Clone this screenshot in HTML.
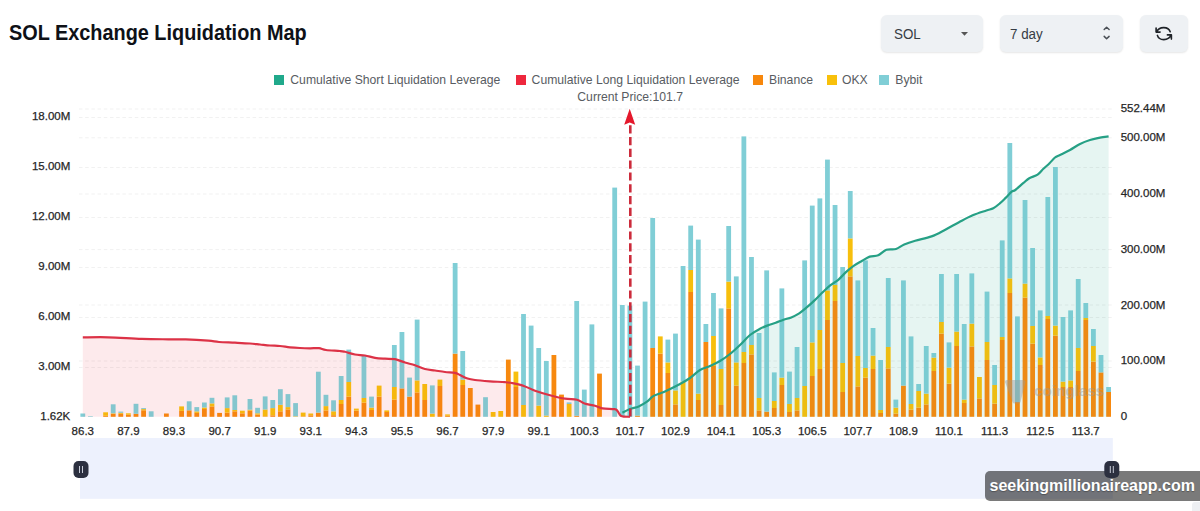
<!DOCTYPE html>
<html><head><meta charset="utf-8"><style>
html,body{margin:0;padding:0;background:#fff;}
body{width:1200px;height:511px;overflow:hidden;position:relative;font-family:"Liberation Sans",sans-serif;}
.title{position:absolute;left:9px;top:21.3px;font-size:22px;font-weight:700;color:#0e1117;line-height:24px;white-space:nowrap;transform:scaleX(0.903);transform-origin:0 0;}
.box{position:absolute;top:15px;height:37px;background:#eef1f4;border-radius:6px;box-shadow:0 1px 2px rgba(0,0,0,0.10);}
.boxtxt{position:absolute;top:9.6px;font-size:15.2px;color:#363c44;line-height:17px;white-space:nowrap;transform:scaleX(0.88);transform-origin:0 0;}
.leg{position:absolute;top:72.3px;font-size:12.2px;color:#585c62;line-height:16px;white-space:nowrap;}
.sq{position:absolute;top:75px;width:10px;height:10px;}
svg{position:absolute;left:0;top:0;}
.lbl text{font-family:"Liberation Sans",sans-serif;font-size:11.5px;fill:#262626;stroke:#262626;stroke-width:0.25px;}
</style></head><body>
<div class="title">SOL Exchange Liquidation Map</div>
<div class="box" style="left:881px;width:102px;"><div class="boxtxt" style="left:13px;">SOL</div>
<svg width="12" height="8" style="left:79px;top:16px;position:absolute"><path d="M1,1 L8,1 L4.5,4.8 Z" fill="#555"/></svg></div>
<div class="box" style="left:1000px;width:123px;"><div class="boxtxt" style="left:10px;">7 day</div>
<svg width="14" height="20" style="left:100px;top:9px;position:absolute"><path d="M4.2,5.5 L6.6,3.2 L9.1,5.5 M4.2,12.4 L6.6,14.8 L9.1,12.4" fill="none" stroke="#4a4f55" stroke-width="1.5" stroke-linecap="round" stroke-linejoin="round"/></svg></div>
<div class="box" style="left:1140px;width:48px;"></div>

<div class="sq" style="left:274.4px;background:#20a98b"></div><div class="leg" style="left:290.3px;">Cumulative Short Liquidation Leverage</div>
<div class="sq" style="left:515.6px;background:#ee283d"></div><div class="leg" style="left:531.6px;">Cumulative Long Liquidation Leverage</div>
<div class="sq" style="left:753.3px;background:#f7870c"></div><div class="leg" style="left:769px;">Binance</div>
<div class="sq" style="left:826.5px;background:#f8c00b"></div><div class="leg" style="left:842px;">OKX</div>
<div class="sq" style="left:879.4px;background:#80ced6"></div><div class="leg" style="left:895.3px;">Bybit</div>
<div class="leg" style="left:577.3px;top:89px;">Current Price:101.7</div>

<svg width="1200" height="511" viewBox="0 0 1200 511">
<line x1="79" y1="117.5" x2="1112" y2="117.5" stroke="#f1f1f1" stroke-width="1" stroke-dasharray="3.5 2.7"/><line x1="79" y1="167.5" x2="1112" y2="167.5" stroke="#f1f1f1" stroke-width="1" stroke-dasharray="3.5 2.7"/><line x1="79" y1="217.5" x2="1112" y2="217.5" stroke="#f1f1f1" stroke-width="1" stroke-dasharray="3.5 2.7"/><line x1="79" y1="267.5" x2="1112" y2="267.5" stroke="#f1f1f1" stroke-width="1" stroke-dasharray="3.5 2.7"/><line x1="79" y1="317.5" x2="1112" y2="317.5" stroke="#f1f1f1" stroke-width="1" stroke-dasharray="3.5 2.7"/><line x1="79" y1="367.5" x2="1112" y2="367.5" stroke="#f1f1f1" stroke-width="1" stroke-dasharray="3.5 2.7"/><line x1="79" y1="109" x2="1112" y2="109" stroke="#f1f1f1" stroke-width="1" stroke-dasharray="3.5 2.7"/><line x1="79" y1="137.8" x2="1112" y2="137.8" stroke="#f1f1f1" stroke-width="1" stroke-dasharray="3.5 2.7"/><line x1="79" y1="194" x2="1112" y2="194" stroke="#f1f1f1" stroke-width="1" stroke-dasharray="3.5 2.7"/><line x1="79" y1="249.6" x2="1112" y2="249.6" stroke="#f1f1f1" stroke-width="1" stroke-dasharray="3.5 2.7"/><line x1="79" y1="305" x2="1112" y2="305" stroke="#f1f1f1" stroke-width="1" stroke-dasharray="3.5 2.7"/><line x1="79" y1="361" x2="1112" y2="361" stroke="#f1f1f1" stroke-width="1" stroke-dasharray="3.5 2.7"/><path d="M82.80,337.40 C87.05,337.38 98.48,337.05 108.30,337.30 C118.12,337.55 131.70,338.57 141.70,338.90 C151.70,339.23 160.97,339.22 168.30,339.30 C175.63,339.38 179.03,339.17 185.70,339.40 C192.37,339.63 202.75,340.27 208.30,340.70 C213.85,341.13 214.55,341.67 219.00,342.00 C223.45,342.33 229.83,342.45 235.00,342.70 C240.17,342.95 245.83,343.20 250.00,343.50 C254.17,343.80 256.67,344.17 260.00,344.50 C263.33,344.83 266.67,345.25 270.00,345.50 C273.33,345.75 276.67,345.70 280.00,346.00 C283.33,346.30 286.67,346.97 290.00,347.30 C293.33,347.63 296.67,347.83 300.00,348.00 C303.33,348.17 306.83,348.27 310.00,348.30 C313.17,348.33 316.33,347.92 319.00,348.20 C321.67,348.48 322.50,349.53 326.00,350.00 C329.50,350.47 336.83,350.70 340.00,351.00 C343.17,351.30 342.50,351.22 345.00,351.80 C347.50,352.38 351.67,353.88 355.00,354.50 C358.33,355.12 361.67,354.95 365.00,355.50 C368.33,356.05 371.67,357.27 375.00,357.80 C378.33,358.33 381.67,358.47 385.00,358.70 C388.33,358.93 391.67,358.57 395.00,359.20 C398.33,359.83 401.67,361.50 405.00,362.50 C408.33,363.50 411.67,364.12 415.00,365.20 C418.33,366.28 421.67,368.12 425.00,369.00 C428.33,369.88 431.67,370.00 435.00,370.50 C438.33,371.00 441.67,371.62 445.00,372.00 C448.33,372.38 452.50,372.30 455.00,372.80 C457.50,373.30 457.92,374.05 460.00,375.00 C462.08,375.95 465.00,377.67 467.50,378.50 C470.00,379.33 471.25,379.53 475.00,380.00 C478.75,380.47 485.00,380.93 490.00,381.30 C495.00,381.67 501.25,381.88 505.00,382.20 C508.75,382.52 509.25,382.53 512.50,383.20 C515.75,383.87 520.75,384.95 524.50,386.20 C528.25,387.45 530.75,389.20 535.00,390.70 C539.25,392.20 545.00,393.87 550.00,395.20 C555.00,396.53 560.50,397.95 565.00,398.70 C569.50,399.45 573.75,398.90 577.00,399.70 C580.25,400.50 581.50,402.50 584.50,403.50 C587.50,404.50 592.00,404.90 595.00,405.70 C598.00,406.50 599.25,407.72 602.50,408.30 C605.75,408.88 612.00,408.75 614.50,409.20 C617.00,409.65 616.38,409.87 617.50,411.00 C618.62,412.13 619.13,415.03 621.20,416.00 C623.27,416.97 628.45,416.67 629.90,416.80 L629.9,416.8 L82.8,416.8 Z" fill="rgba(235,30,50,0.05)"/><path d="M622.30,412.60 C623.58,412.00 627.27,410.03 630.00,409.00 C632.73,407.97 635.87,407.62 638.70,406.40 C641.53,405.18 644.65,403.37 647.00,401.70 C649.35,400.03 650.65,397.77 652.80,396.40 C654.95,395.03 657.70,394.40 659.90,393.50 C662.10,392.60 662.65,392.58 666.00,391.00 C669.35,389.42 676.00,386.17 680.00,384.00 C684.00,381.83 686.67,380.33 690.00,378.00 C693.33,375.67 696.67,372.00 700.00,370.00 C703.33,368.00 706.67,367.50 710.00,366.00 C713.33,364.50 716.67,363.00 720.00,361.00 C723.33,359.00 726.67,356.67 730.00,354.00 C733.33,351.33 736.67,348.17 740.00,345.00 C743.33,341.83 746.67,337.70 750.00,335.00 C753.33,332.30 757.03,330.40 760.00,328.80 C762.97,327.20 765.18,326.40 767.80,325.40 C770.42,324.40 773.08,323.75 775.70,322.80 C778.32,321.85 780.90,320.60 783.50,319.70 C786.10,318.80 788.68,318.45 791.30,317.40 C793.92,316.35 796.58,315.10 799.20,313.40 C801.82,311.70 804.40,309.42 807.00,307.20 C809.60,304.98 812.18,302.58 814.80,300.10 C817.42,297.62 820.08,294.78 822.70,292.30 C825.32,289.82 827.90,287.28 830.50,285.20 C833.10,283.12 835.68,282.02 838.30,279.80 C840.92,277.58 843.58,274.25 846.20,271.90 C848.82,269.55 851.40,267.52 854.00,265.70 C856.60,263.88 859.18,262.52 861.80,261.00 C864.42,259.48 866.97,257.55 869.70,256.60 C872.43,255.65 875.42,256.43 878.20,255.30 C880.98,254.17 883.43,250.85 886.40,249.80 C889.37,248.75 893.03,249.88 896.00,249.00 C898.97,248.12 901.00,245.88 904.20,244.50 C907.40,243.12 910.63,242.05 915.20,240.70 C919.77,239.35 926.58,238.23 931.60,236.40 C936.62,234.57 940.73,232.07 945.30,229.70 C949.87,227.33 954.43,224.60 959.00,222.20 C963.57,219.80 968.13,217.25 972.70,215.30 C977.27,213.35 982.97,211.67 986.40,210.50 C989.83,209.33 991.02,209.52 993.30,208.30 C995.58,207.08 998.00,204.98 1000.10,203.20 C1002.20,201.42 1003.97,199.52 1005.90,197.60 C1007.83,195.68 1010.13,192.97 1011.70,191.70 C1013.27,190.43 1013.33,191.47 1015.30,190.00 C1017.27,188.53 1021.17,184.87 1023.50,182.90 C1025.83,180.93 1026.95,179.57 1029.30,178.20 C1031.65,176.83 1035.25,176.27 1037.60,174.70 C1039.95,173.13 1041.45,170.67 1043.40,168.80 C1045.35,166.93 1047.37,165.38 1049.30,163.50 C1051.23,161.62 1053.22,158.92 1055.00,157.50 C1056.78,156.08 1057.50,156.25 1060.00,155.00 C1062.50,153.75 1066.67,151.83 1070.00,150.00 C1073.33,148.17 1076.67,145.67 1080.00,144.00 C1083.33,142.33 1086.67,141.07 1090.00,140.00 C1093.33,138.93 1096.90,138.20 1100.00,137.60 C1103.10,137.00 1107.17,136.60 1108.60,136.40 L1108.6,416.8 L622.3,416.8 Z" fill="rgba(30,160,130,0.065)"/><rect x="80.40" y="413.50" width="4.8" height="3.30" fill="#80ced6"/><rect x="88.00" y="416.20" width="4.8" height="0.60" fill="#80ced6"/><rect x="103.20" y="415.80" width="4.8" height="1.00" fill="#f7890f"/><rect x="103.20" y="412.30" width="4.8" height="3.50" fill="#f7bf0d"/><rect x="110.79" y="413.80" width="4.8" height="3.00" fill="#f7890f"/><rect x="110.79" y="413.30" width="4.8" height="0.50" fill="#f7bf0d"/><rect x="110.79" y="404.30" width="4.8" height="9.00" fill="#80ced6"/><rect x="118.39" y="413.80" width="4.8" height="3.00" fill="#f7890f"/><rect x="118.39" y="412.80" width="4.8" height="1.00" fill="#f7bf0d"/><rect x="118.39" y="411.60" width="4.8" height="1.20" fill="#80ced6"/><rect x="125.99" y="414.80" width="4.8" height="2.00" fill="#f7890f"/><rect x="125.99" y="413.30" width="4.8" height="1.50" fill="#f7bf0d"/><rect x="133.59" y="413.80" width="4.8" height="3.00" fill="#f7890f"/><rect x="133.59" y="403.80" width="4.8" height="10.00" fill="#80ced6"/><rect x="141.19" y="410.30" width="4.8" height="6.50" fill="#f7890f"/><rect x="141.19" y="409.10" width="4.8" height="1.20" fill="#f7bf0d"/><rect x="141.19" y="408.10" width="4.8" height="1.00" fill="#80ced6"/><rect x="148.79" y="411.30" width="4.8" height="5.50" fill="#80ced6"/><rect x="163.98" y="413.50" width="4.8" height="3.30" fill="#f7890f"/><rect x="179.18" y="410.90" width="4.8" height="5.90" fill="#f7890f"/><rect x="179.18" y="406.40" width="4.8" height="4.50" fill="#f7bf0d"/><rect x="186.78" y="410.30" width="4.8" height="6.50" fill="#f7890f"/><rect x="186.78" y="401.30" width="4.8" height="9.00" fill="#80ced6"/><rect x="194.38" y="412.90" width="4.8" height="3.90" fill="#f7890f"/><rect x="194.38" y="411.40" width="4.8" height="1.50" fill="#f7bf0d"/><rect x="194.38" y="407.10" width="4.8" height="4.30" fill="#80ced6"/><rect x="201.98" y="409.00" width="4.8" height="7.80" fill="#f7890f"/><rect x="201.98" y="407.50" width="4.8" height="1.50" fill="#f7bf0d"/><rect x="201.98" y="402.50" width="4.8" height="5.00" fill="#80ced6"/><rect x="209.57" y="406.40" width="4.8" height="10.40" fill="#f7890f"/><rect x="209.57" y="403.40" width="4.8" height="3.00" fill="#f7bf0d"/><rect x="209.57" y="397.80" width="4.8" height="5.60" fill="#80ced6"/><rect x="217.17" y="412.90" width="4.8" height="3.90" fill="#f7890f"/><rect x="224.77" y="412.60" width="4.8" height="4.20" fill="#f7890f"/><rect x="224.77" y="408.10" width="4.8" height="4.50" fill="#f7bf0d"/><rect x="224.77" y="397.40" width="4.8" height="10.70" fill="#80ced6"/><rect x="232.37" y="411.30" width="4.8" height="5.50" fill="#f7890f"/><rect x="232.37" y="410.00" width="4.8" height="1.30" fill="#f7bf0d"/><rect x="232.37" y="395.30" width="4.8" height="14.70" fill="#80ced6"/><rect x="239.97" y="413.30" width="4.8" height="3.50" fill="#f7890f"/><rect x="239.97" y="410.70" width="4.8" height="2.60" fill="#f7bf0d"/><rect x="247.57" y="410.70" width="4.8" height="6.10" fill="#f7890f"/><rect x="247.57" y="409.70" width="4.8" height="1.00" fill="#f7bf0d"/><rect x="247.57" y="399.00" width="4.8" height="10.70" fill="#80ced6"/><rect x="255.17" y="414.60" width="4.8" height="2.20" fill="#f7890f"/><rect x="255.17" y="413.30" width="4.8" height="1.30" fill="#f7bf0d"/><rect x="255.17" y="407.80" width="4.8" height="5.50" fill="#80ced6"/><rect x="262.76" y="416.30" width="4.8" height="0.50" fill="#f7890f"/><rect x="262.76" y="409.50" width="4.8" height="6.80" fill="#f7bf0d"/><rect x="262.76" y="396.40" width="4.8" height="13.10" fill="#80ced6"/><rect x="270.36" y="415.30" width="4.8" height="1.50" fill="#f7890f"/><rect x="270.36" y="408.10" width="4.8" height="7.20" fill="#f7bf0d"/><rect x="270.36" y="400.00" width="4.8" height="8.10" fill="#80ced6"/><rect x="277.96" y="411.30" width="4.8" height="5.50" fill="#f7890f"/><rect x="277.96" y="404.80" width="4.8" height="6.50" fill="#f7bf0d"/><rect x="277.96" y="389.20" width="4.8" height="15.60" fill="#80ced6"/><rect x="285.56" y="409.40" width="4.8" height="7.40" fill="#f7890f"/><rect x="285.56" y="407.10" width="4.8" height="2.30" fill="#f7bf0d"/><rect x="285.56" y="394.10" width="4.8" height="13.00" fill="#80ced6"/><rect x="293.16" y="416.30" width="4.8" height="0.50" fill="#f7bf0d"/><rect x="293.16" y="403.10" width="4.8" height="13.20" fill="#80ced6"/><rect x="300.76" y="416.30" width="4.8" height="0.50" fill="#f7890f"/><rect x="300.76" y="412.60" width="4.8" height="3.70" fill="#f7bf0d"/><rect x="308.36" y="415.30" width="4.8" height="1.50" fill="#f7890f"/><rect x="308.36" y="413.50" width="4.8" height="1.80" fill="#f7bf0d"/><rect x="315.95" y="412.60" width="4.8" height="4.20" fill="#f7890f"/><rect x="315.95" y="371.70" width="4.8" height="40.90" fill="#80ced6"/><rect x="323.55" y="410.40" width="4.8" height="6.40" fill="#f7890f"/><rect x="323.55" y="406.10" width="4.8" height="4.30" fill="#f7bf0d"/><rect x="323.55" y="394.80" width="4.8" height="11.30" fill="#80ced6"/><rect x="331.15" y="415.20" width="4.8" height="1.60" fill="#f7890f"/><rect x="331.15" y="411.30" width="4.8" height="3.90" fill="#f7bf0d"/><rect x="331.15" y="400.30" width="4.8" height="11.00" fill="#80ced6"/><rect x="338.75" y="404.00" width="4.8" height="12.80" fill="#f7890f"/><rect x="338.75" y="400.00" width="4.8" height="4.00" fill="#f7bf0d"/><rect x="338.75" y="376.00" width="4.8" height="24.00" fill="#80ced6"/><rect x="346.35" y="396.60" width="4.8" height="20.20" fill="#f7890f"/><rect x="346.35" y="382.00" width="4.8" height="14.60" fill="#f7bf0d"/><rect x="346.35" y="349.60" width="4.8" height="32.40" fill="#80ced6"/><rect x="353.95" y="410.60" width="4.8" height="6.20" fill="#f7890f"/><rect x="353.95" y="408.60" width="4.8" height="2.00" fill="#f7bf0d"/><rect x="361.55" y="402.60" width="4.8" height="14.20" fill="#f7890f"/><rect x="361.55" y="398.00" width="4.8" height="4.60" fill="#f7bf0d"/><rect x="361.55" y="356.00" width="4.8" height="42.00" fill="#80ced6"/><rect x="369.14" y="410.00" width="4.8" height="6.80" fill="#f7890f"/><rect x="369.14" y="407.60" width="4.8" height="2.40" fill="#f7bf0d"/><rect x="369.14" y="396.60" width="4.8" height="11.00" fill="#80ced6"/><rect x="376.74" y="396.60" width="4.8" height="20.20" fill="#f7890f"/><rect x="376.74" y="385.60" width="4.8" height="11.00" fill="#f7bf0d"/><rect x="384.34" y="412.00" width="4.8" height="4.80" fill="#f7890f"/><rect x="384.34" y="410.40" width="4.8" height="1.60" fill="#f7bf0d"/><rect x="391.94" y="399.60" width="4.8" height="17.20" fill="#f7890f"/><rect x="391.94" y="387.00" width="4.8" height="12.60" fill="#f7bf0d"/><rect x="391.94" y="345.00" width="4.8" height="42.00" fill="#80ced6"/><rect x="399.54" y="388.40" width="4.8" height="28.40" fill="#f7890f"/><rect x="399.54" y="332.00" width="4.8" height="56.40" fill="#80ced6"/><rect x="407.14" y="396.60" width="4.8" height="20.20" fill="#f7890f"/><rect x="407.14" y="377.60" width="4.8" height="19.00" fill="#80ced6"/><rect x="414.73" y="392.40" width="4.8" height="24.40" fill="#f7890f"/><rect x="414.73" y="380.40" width="4.8" height="12.00" fill="#f7bf0d"/><rect x="414.73" y="319.60" width="4.8" height="60.80" fill="#80ced6"/><rect x="422.33" y="400.00" width="4.8" height="16.80" fill="#f7890f"/><rect x="422.33" y="384.00" width="4.8" height="16.00" fill="#f7bf0d"/><rect x="429.93" y="413.60" width="4.8" height="3.20" fill="#f7bf0d"/><rect x="429.93" y="385.40" width="4.8" height="28.20" fill="#80ced6"/><rect x="437.53" y="386.00" width="4.8" height="30.80" fill="#f7890f"/><rect x="437.53" y="379.60" width="4.8" height="6.40" fill="#f7bf0d"/><rect x="445.13" y="415.80" width="4.8" height="1.00" fill="#f7890f"/><rect x="445.13" y="414.40" width="4.8" height="1.40" fill="#f7bf0d"/><rect x="452.73" y="353.60" width="4.8" height="63.20" fill="#f7890f"/><rect x="452.73" y="263.00" width="4.8" height="90.60" fill="#80ced6"/><rect x="460.33" y="385.00" width="4.8" height="31.80" fill="#f7890f"/><rect x="460.33" y="379.60" width="4.8" height="5.40" fill="#f7bf0d"/><rect x="460.33" y="351.00" width="4.8" height="28.60" fill="#80ced6"/><rect x="467.92" y="388.00" width="4.8" height="28.80" fill="#f7890f"/><rect x="475.52" y="404.60" width="4.8" height="12.20" fill="#f7890f"/><rect x="483.12" y="397.20" width="4.8" height="19.60" fill="#80ced6"/><rect x="490.72" y="412.00" width="4.8" height="4.80" fill="#f7bf0d"/><rect x="498.32" y="411.00" width="4.8" height="5.80" fill="#f7bf0d"/><rect x="505.92" y="359.60" width="4.8" height="57.20" fill="#f7890f"/><rect x="513.52" y="387.00" width="4.8" height="29.80" fill="#f7890f"/><rect x="513.52" y="371.60" width="4.8" height="15.40" fill="#f7bf0d"/><rect x="521.11" y="405.00" width="4.8" height="11.80" fill="#f7bf0d"/><rect x="521.11" y="314.00" width="4.8" height="91.00" fill="#80ced6"/><rect x="528.71" y="325.60" width="4.8" height="91.20" fill="#80ced6"/><rect x="536.31" y="405.60" width="4.8" height="11.20" fill="#f7bf0d"/><rect x="536.31" y="348.00" width="4.8" height="57.60" fill="#80ced6"/><rect x="543.91" y="415.60" width="4.8" height="1.20" fill="#f7bf0d"/><rect x="543.91" y="361.00" width="4.8" height="54.60" fill="#80ced6"/><rect x="551.51" y="355.00" width="4.8" height="61.80" fill="#f7890f"/><rect x="559.11" y="394.60" width="4.8" height="22.20" fill="#f7890f"/><rect x="566.71" y="404.00" width="4.8" height="12.80" fill="#f7bf0d"/><rect x="566.71" y="402.40" width="4.8" height="1.60" fill="#80ced6"/><rect x="574.30" y="415.80" width="4.8" height="1.00" fill="#f7890f"/><rect x="574.30" y="301.00" width="4.8" height="114.80" fill="#80ced6"/><rect x="581.90" y="389.60" width="4.8" height="27.20" fill="#80ced6"/><rect x="589.50" y="324.40" width="4.8" height="92.40" fill="#80ced6"/><rect x="597.10" y="373.60" width="4.8" height="43.20" fill="#f7890f"/><rect x="612.30" y="187.60" width="4.8" height="229.20" fill="#80ced6"/><rect x="619.89" y="305.00" width="4.8" height="111.80" fill="#80ced6"/><rect x="627.49" y="305.60" width="4.8" height="111.20" fill="#80ced6"/><rect x="635.09" y="415.60" width="4.8" height="1.20" fill="#f7890f"/><rect x="635.09" y="365.60" width="4.8" height="50.00" fill="#80ced6"/><rect x="642.69" y="301.60" width="4.8" height="115.20" fill="#80ced6"/><rect x="650.29" y="348.00" width="4.8" height="68.80" fill="#f7890f"/><rect x="650.29" y="218.00" width="4.8" height="130.00" fill="#80ced6"/><rect x="657.89" y="353.60" width="4.8" height="63.20" fill="#f7890f"/><rect x="657.89" y="336.40" width="4.8" height="17.20" fill="#f7bf0d"/><rect x="665.49" y="373.00" width="4.8" height="43.80" fill="#f7890f"/><rect x="665.49" y="362.40" width="4.8" height="10.60" fill="#f7bf0d"/><rect x="665.49" y="339.60" width="4.8" height="22.80" fill="#80ced6"/><rect x="673.08" y="404.40" width="4.8" height="12.40" fill="#f7890f"/><rect x="673.08" y="390.40" width="4.8" height="14.00" fill="#f7bf0d"/><rect x="673.08" y="333.60" width="4.8" height="56.80" fill="#80ced6"/><rect x="680.68" y="381.60" width="4.8" height="35.20" fill="#f7bf0d"/><rect x="680.68" y="266.00" width="4.8" height="115.60" fill="#80ced6"/><rect x="688.28" y="292.00" width="4.8" height="124.80" fill="#f7890f"/><rect x="688.28" y="270.00" width="4.8" height="22.00" fill="#f7bf0d"/><rect x="688.28" y="225.60" width="4.8" height="44.40" fill="#80ced6"/><rect x="695.88" y="400.00" width="4.8" height="16.80" fill="#f7890f"/><rect x="695.88" y="393.60" width="4.8" height="6.40" fill="#f7bf0d"/><rect x="695.88" y="239.60" width="4.8" height="154.00" fill="#80ced6"/><rect x="703.48" y="342.00" width="4.8" height="74.80" fill="#f7890f"/><rect x="703.48" y="324.00" width="4.8" height="18.00" fill="#80ced6"/><rect x="711.08" y="366.00" width="4.8" height="50.80" fill="#f7890f"/><rect x="711.08" y="336.00" width="4.8" height="30.00" fill="#f7bf0d"/><rect x="711.08" y="293.00" width="4.8" height="43.00" fill="#80ced6"/><rect x="718.68" y="405.00" width="4.8" height="11.80" fill="#f7890f"/><rect x="718.68" y="369.00" width="4.8" height="36.00" fill="#f7bf0d"/><rect x="718.68" y="308.40" width="4.8" height="60.60" fill="#80ced6"/><rect x="726.27" y="308.40" width="4.8" height="108.40" fill="#f7890f"/><rect x="726.27" y="281.60" width="4.8" height="26.80" fill="#f7bf0d"/><rect x="726.27" y="226.00" width="4.8" height="55.60" fill="#80ced6"/><rect x="733.87" y="385.60" width="4.8" height="31.20" fill="#f7890f"/><rect x="733.87" y="362.40" width="4.8" height="23.20" fill="#f7bf0d"/><rect x="733.87" y="276.40" width="4.8" height="86.00" fill="#80ced6"/><rect x="741.47" y="363.00" width="4.8" height="53.80" fill="#f7890f"/><rect x="741.47" y="352.00" width="4.8" height="11.00" fill="#f7bf0d"/><rect x="741.47" y="136.40" width="4.8" height="215.60" fill="#80ced6"/><rect x="749.07" y="354.40" width="4.8" height="62.40" fill="#f7890f"/><rect x="749.07" y="345.00" width="4.8" height="9.40" fill="#f7bf0d"/><rect x="749.07" y="257.00" width="4.8" height="88.00" fill="#80ced6"/><rect x="756.67" y="410.40" width="4.8" height="6.40" fill="#f7890f"/><rect x="756.67" y="398.00" width="4.8" height="12.40" fill="#f7bf0d"/><rect x="756.67" y="333.00" width="4.8" height="65.00" fill="#80ced6"/><rect x="764.27" y="411.60" width="4.8" height="5.20" fill="#f7890f"/><rect x="764.27" y="270.40" width="4.8" height="141.20" fill="#80ced6"/><rect x="771.87" y="408.00" width="4.8" height="8.80" fill="#f7890f"/><rect x="771.87" y="401.00" width="4.8" height="7.00" fill="#f7bf0d"/><rect x="771.87" y="372.40" width="4.8" height="28.60" fill="#80ced6"/><rect x="779.46" y="385.00" width="4.8" height="31.80" fill="#f7890f"/><rect x="779.46" y="377.60" width="4.8" height="7.40" fill="#f7bf0d"/><rect x="779.46" y="288.40" width="4.8" height="89.20" fill="#80ced6"/><rect x="787.06" y="412.00" width="4.8" height="4.80" fill="#f7890f"/><rect x="787.06" y="404.00" width="4.8" height="8.00" fill="#f7bf0d"/><rect x="787.06" y="371.60" width="4.8" height="32.40" fill="#80ced6"/><rect x="794.66" y="410.40" width="4.8" height="6.40" fill="#f7890f"/><rect x="794.66" y="398.00" width="4.8" height="12.40" fill="#f7bf0d"/><rect x="794.66" y="347.00" width="4.8" height="51.00" fill="#80ced6"/><rect x="802.26" y="386.00" width="4.8" height="30.80" fill="#f7bf0d"/><rect x="802.26" y="260.40" width="4.8" height="125.60" fill="#80ced6"/><rect x="809.86" y="376.00" width="4.8" height="40.80" fill="#f7890f"/><rect x="809.86" y="342.40" width="4.8" height="33.60" fill="#f7bf0d"/><rect x="809.86" y="205.60" width="4.8" height="136.80" fill="#80ced6"/><rect x="817.46" y="369.00" width="4.8" height="47.80" fill="#f7890f"/><rect x="817.46" y="330.00" width="4.8" height="39.00" fill="#f7bf0d"/><rect x="817.46" y="198.40" width="4.8" height="131.60" fill="#80ced6"/><rect x="825.05" y="320.00" width="4.8" height="96.80" fill="#f7890f"/><rect x="825.05" y="290.40" width="4.8" height="29.60" fill="#f7bf0d"/><rect x="825.05" y="159.60" width="4.8" height="130.80" fill="#80ced6"/><rect x="832.65" y="301.00" width="4.8" height="115.80" fill="#f7890f"/><rect x="832.65" y="285.00" width="4.8" height="16.00" fill="#f7bf0d"/><rect x="832.65" y="205.00" width="4.8" height="80.00" fill="#80ced6"/><rect x="840.25" y="392.00" width="4.8" height="24.80" fill="#f7890f"/><rect x="840.25" y="363.00" width="4.8" height="29.00" fill="#f7bf0d"/><rect x="840.25" y="267.00" width="4.8" height="96.00" fill="#80ced6"/><rect x="847.85" y="276.40" width="4.8" height="140.40" fill="#f7890f"/><rect x="847.85" y="238.40" width="4.8" height="38.00" fill="#f7bf0d"/><rect x="847.85" y="191.00" width="4.8" height="47.40" fill="#80ced6"/><rect x="855.45" y="386.40" width="4.8" height="30.40" fill="#f7890f"/><rect x="855.45" y="356.00" width="4.8" height="30.40" fill="#f7bf0d"/><rect x="855.45" y="280.40" width="4.8" height="75.60" fill="#80ced6"/><rect x="863.05" y="377.60" width="4.8" height="39.20" fill="#f7890f"/><rect x="863.05" y="368.00" width="4.8" height="9.60" fill="#f7bf0d"/><rect x="863.05" y="260.40" width="4.8" height="107.60" fill="#80ced6"/><rect x="870.65" y="369.00" width="4.8" height="47.80" fill="#f7890f"/><rect x="870.65" y="355.60" width="4.8" height="13.40" fill="#f7bf0d"/><rect x="870.65" y="328.00" width="4.8" height="27.60" fill="#80ced6"/><rect x="878.24" y="413.00" width="4.8" height="3.80" fill="#f7890f"/><rect x="878.24" y="410.00" width="4.8" height="3.00" fill="#f7bf0d"/><rect x="878.24" y="360.00" width="4.8" height="50.00" fill="#80ced6"/><rect x="885.84" y="368.40" width="4.8" height="48.40" fill="#f7890f"/><rect x="885.84" y="347.00" width="4.8" height="21.40" fill="#f7bf0d"/><rect x="885.84" y="278.00" width="4.8" height="69.00" fill="#80ced6"/><rect x="893.44" y="413.60" width="4.8" height="3.20" fill="#f7890f"/><rect x="893.44" y="407.60" width="4.8" height="6.00" fill="#f7bf0d"/><rect x="893.44" y="399.60" width="4.8" height="8.00" fill="#80ced6"/><rect x="901.04" y="385.60" width="4.8" height="31.20" fill="#f7890f"/><rect x="901.04" y="280.40" width="4.8" height="105.20" fill="#80ced6"/><rect x="908.64" y="409.60" width="4.8" height="7.20" fill="#f7890f"/><rect x="908.64" y="404.00" width="4.8" height="5.60" fill="#f7bf0d"/><rect x="908.64" y="336.40" width="4.8" height="67.60" fill="#80ced6"/><rect x="916.24" y="407.60" width="4.8" height="9.20" fill="#f7890f"/><rect x="916.24" y="391.00" width="4.8" height="16.60" fill="#f7bf0d"/><rect x="916.24" y="384.00" width="4.8" height="7.00" fill="#80ced6"/><rect x="923.84" y="404.40" width="4.8" height="12.40" fill="#f7890f"/><rect x="923.84" y="393.60" width="4.8" height="10.80" fill="#f7bf0d"/><rect x="923.84" y="346.00" width="4.8" height="47.60" fill="#80ced6"/><rect x="931.43" y="371.00" width="4.8" height="45.80" fill="#f7890f"/><rect x="931.43" y="357.60" width="4.8" height="13.40" fill="#f7bf0d"/><rect x="931.43" y="353.00" width="4.8" height="4.60" fill="#80ced6"/><rect x="939.03" y="333.60" width="4.8" height="83.20" fill="#f7890f"/><rect x="939.03" y="322.00" width="4.8" height="11.60" fill="#f7bf0d"/><rect x="939.03" y="274.00" width="4.8" height="48.00" fill="#80ced6"/><rect x="946.63" y="383.60" width="4.8" height="33.20" fill="#f7890f"/><rect x="946.63" y="367.60" width="4.8" height="16.00" fill="#f7bf0d"/><rect x="946.63" y="342.40" width="4.8" height="25.20" fill="#80ced6"/><rect x="954.23" y="346.00" width="4.8" height="70.80" fill="#f7890f"/><rect x="954.23" y="331.60" width="4.8" height="14.40" fill="#f7bf0d"/><rect x="954.23" y="274.00" width="4.8" height="57.60" fill="#80ced6"/><rect x="961.83" y="403.00" width="4.8" height="13.80" fill="#f7890f"/><rect x="961.83" y="399.60" width="4.8" height="3.40" fill="#f7bf0d"/><rect x="961.83" y="324.00" width="4.8" height="75.60" fill="#80ced6"/><rect x="969.43" y="346.40" width="4.8" height="70.40" fill="#f7890f"/><rect x="969.43" y="323.60" width="4.8" height="22.80" fill="#f7bf0d"/><rect x="969.43" y="273.40" width="4.8" height="50.20" fill="#80ced6"/><rect x="977.03" y="398.40" width="4.8" height="18.40" fill="#f7890f"/><rect x="977.03" y="377.00" width="4.8" height="21.40" fill="#f7bf0d"/><rect x="984.62" y="360.00" width="4.8" height="56.80" fill="#f7890f"/><rect x="984.62" y="342.00" width="4.8" height="18.00" fill="#f7bf0d"/><rect x="984.62" y="291.60" width="4.8" height="50.40" fill="#80ced6"/><rect x="992.22" y="403.60" width="4.8" height="13.20" fill="#f7890f"/><rect x="992.22" y="385.00" width="4.8" height="18.60" fill="#f7bf0d"/><rect x="992.22" y="365.00" width="4.8" height="20.00" fill="#80ced6"/><rect x="999.82" y="340.00" width="4.8" height="76.80" fill="#f7890f"/><rect x="999.82" y="337.00" width="4.8" height="3.00" fill="#f7bf0d"/><rect x="999.82" y="240.40" width="4.8" height="96.60" fill="#80ced6"/><rect x="1007.42" y="293.00" width="4.8" height="123.80" fill="#f7890f"/><rect x="1007.42" y="278.40" width="4.8" height="14.60" fill="#f7bf0d"/><rect x="1007.42" y="143.00" width="4.8" height="135.40" fill="#80ced6"/><rect x="1015.02" y="402.00" width="4.8" height="14.80" fill="#f7890f"/><rect x="1015.02" y="316.40" width="4.8" height="85.60" fill="#80ced6"/><rect x="1022.62" y="297.60" width="4.8" height="119.20" fill="#f7890f"/><rect x="1022.62" y="283.60" width="4.8" height="14.00" fill="#f7bf0d"/><rect x="1022.62" y="200.00" width="4.8" height="83.60" fill="#80ced6"/><rect x="1030.21" y="343.60" width="4.8" height="73.20" fill="#f7890f"/><rect x="1030.21" y="326.00" width="4.8" height="17.60" fill="#f7bf0d"/><rect x="1030.21" y="248.00" width="4.8" height="78.00" fill="#80ced6"/><rect x="1037.81" y="365.00" width="4.8" height="51.80" fill="#f7890f"/><rect x="1037.81" y="357.40" width="4.8" height="7.60" fill="#f7bf0d"/><rect x="1037.81" y="310.40" width="4.8" height="47.00" fill="#80ced6"/><rect x="1045.41" y="319.00" width="4.8" height="97.80" fill="#f7890f"/><rect x="1045.41" y="316.00" width="4.8" height="3.00" fill="#f7bf0d"/><rect x="1045.41" y="197.00" width="4.8" height="119.00" fill="#80ced6"/><rect x="1053.01" y="335.60" width="4.8" height="81.20" fill="#f7890f"/><rect x="1053.01" y="325.60" width="4.8" height="10.00" fill="#f7bf0d"/><rect x="1053.01" y="167.00" width="4.8" height="158.60" fill="#80ced6"/><rect x="1060.61" y="387.00" width="4.8" height="29.80" fill="#f7890f"/><rect x="1060.61" y="381.60" width="4.8" height="5.40" fill="#f7bf0d"/><rect x="1060.61" y="317.00" width="4.8" height="64.60" fill="#80ced6"/><rect x="1068.21" y="387.00" width="4.8" height="29.80" fill="#f7890f"/><rect x="1068.21" y="380.40" width="4.8" height="6.60" fill="#f7bf0d"/><rect x="1068.21" y="310.40" width="4.8" height="70.00" fill="#80ced6"/><rect x="1075.81" y="371.00" width="4.8" height="45.80" fill="#f7890f"/><rect x="1075.81" y="348.00" width="4.8" height="23.00" fill="#f7bf0d"/><rect x="1075.81" y="279.00" width="4.8" height="69.00" fill="#80ced6"/><rect x="1083.40" y="320.00" width="4.8" height="96.80" fill="#f7890f"/><rect x="1083.40" y="318.00" width="4.8" height="2.00" fill="#f7bf0d"/><rect x="1083.40" y="303.00" width="4.8" height="15.00" fill="#80ced6"/><rect x="1091.00" y="361.60" width="4.8" height="55.20" fill="#f7890f"/><rect x="1091.00" y="346.00" width="4.8" height="15.60" fill="#f7bf0d"/><rect x="1091.00" y="329.00" width="4.8" height="17.00" fill="#80ced6"/><rect x="1098.60" y="372.40" width="4.8" height="44.40" fill="#f7890f"/><rect x="1098.60" y="355.00" width="4.8" height="17.40" fill="#80ced6"/><rect x="1106.20" y="392.00" width="4.8" height="24.80" fill="#f7890f"/><rect x="1106.20" y="387.00" width="4.8" height="5.00" fill="#80ced6"/><path d="M82.80,337.40 C87.05,337.38 98.48,337.05 108.30,337.30 C118.12,337.55 131.70,338.57 141.70,338.90 C151.70,339.23 160.97,339.22 168.30,339.30 C175.63,339.38 179.03,339.17 185.70,339.40 C192.37,339.63 202.75,340.27 208.30,340.70 C213.85,341.13 214.55,341.67 219.00,342.00 C223.45,342.33 229.83,342.45 235.00,342.70 C240.17,342.95 245.83,343.20 250.00,343.50 C254.17,343.80 256.67,344.17 260.00,344.50 C263.33,344.83 266.67,345.25 270.00,345.50 C273.33,345.75 276.67,345.70 280.00,346.00 C283.33,346.30 286.67,346.97 290.00,347.30 C293.33,347.63 296.67,347.83 300.00,348.00 C303.33,348.17 306.83,348.27 310.00,348.30 C313.17,348.33 316.33,347.92 319.00,348.20 C321.67,348.48 322.50,349.53 326.00,350.00 C329.50,350.47 336.83,350.70 340.00,351.00 C343.17,351.30 342.50,351.22 345.00,351.80 C347.50,352.38 351.67,353.88 355.00,354.50 C358.33,355.12 361.67,354.95 365.00,355.50 C368.33,356.05 371.67,357.27 375.00,357.80 C378.33,358.33 381.67,358.47 385.00,358.70 C388.33,358.93 391.67,358.57 395.00,359.20 C398.33,359.83 401.67,361.50 405.00,362.50 C408.33,363.50 411.67,364.12 415.00,365.20 C418.33,366.28 421.67,368.12 425.00,369.00 C428.33,369.88 431.67,370.00 435.00,370.50 C438.33,371.00 441.67,371.62 445.00,372.00 C448.33,372.38 452.50,372.30 455.00,372.80 C457.50,373.30 457.92,374.05 460.00,375.00 C462.08,375.95 465.00,377.67 467.50,378.50 C470.00,379.33 471.25,379.53 475.00,380.00 C478.75,380.47 485.00,380.93 490.00,381.30 C495.00,381.67 501.25,381.88 505.00,382.20 C508.75,382.52 509.25,382.53 512.50,383.20 C515.75,383.87 520.75,384.95 524.50,386.20 C528.25,387.45 530.75,389.20 535.00,390.70 C539.25,392.20 545.00,393.87 550.00,395.20 C555.00,396.53 560.50,397.95 565.00,398.70 C569.50,399.45 573.75,398.90 577.00,399.70 C580.25,400.50 581.50,402.50 584.50,403.50 C587.50,404.50 592.00,404.90 595.00,405.70 C598.00,406.50 599.25,407.72 602.50,408.30 C605.75,408.88 612.00,408.75 614.50,409.20 C617.00,409.65 616.38,409.87 617.50,411.00 C618.62,412.13 619.13,415.03 621.20,416.00 C623.27,416.97 628.45,416.67 629.90,416.80 L629.9,416.8 L82.8,416.8 Z" fill="rgba(235,30,50,0.045)"/><path d="M622.30,412.60 C623.58,412.00 627.27,410.03 630.00,409.00 C632.73,407.97 635.87,407.62 638.70,406.40 C641.53,405.18 644.65,403.37 647.00,401.70 C649.35,400.03 650.65,397.77 652.80,396.40 C654.95,395.03 657.70,394.40 659.90,393.50 C662.10,392.60 662.65,392.58 666.00,391.00 C669.35,389.42 676.00,386.17 680.00,384.00 C684.00,381.83 686.67,380.33 690.00,378.00 C693.33,375.67 696.67,372.00 700.00,370.00 C703.33,368.00 706.67,367.50 710.00,366.00 C713.33,364.50 716.67,363.00 720.00,361.00 C723.33,359.00 726.67,356.67 730.00,354.00 C733.33,351.33 736.67,348.17 740.00,345.00 C743.33,341.83 746.67,337.70 750.00,335.00 C753.33,332.30 757.03,330.40 760.00,328.80 C762.97,327.20 765.18,326.40 767.80,325.40 C770.42,324.40 773.08,323.75 775.70,322.80 C778.32,321.85 780.90,320.60 783.50,319.70 C786.10,318.80 788.68,318.45 791.30,317.40 C793.92,316.35 796.58,315.10 799.20,313.40 C801.82,311.70 804.40,309.42 807.00,307.20 C809.60,304.98 812.18,302.58 814.80,300.10 C817.42,297.62 820.08,294.78 822.70,292.30 C825.32,289.82 827.90,287.28 830.50,285.20 C833.10,283.12 835.68,282.02 838.30,279.80 C840.92,277.58 843.58,274.25 846.20,271.90 C848.82,269.55 851.40,267.52 854.00,265.70 C856.60,263.88 859.18,262.52 861.80,261.00 C864.42,259.48 866.97,257.55 869.70,256.60 C872.43,255.65 875.42,256.43 878.20,255.30 C880.98,254.17 883.43,250.85 886.40,249.80 C889.37,248.75 893.03,249.88 896.00,249.00 C898.97,248.12 901.00,245.88 904.20,244.50 C907.40,243.12 910.63,242.05 915.20,240.70 C919.77,239.35 926.58,238.23 931.60,236.40 C936.62,234.57 940.73,232.07 945.30,229.70 C949.87,227.33 954.43,224.60 959.00,222.20 C963.57,219.80 968.13,217.25 972.70,215.30 C977.27,213.35 982.97,211.67 986.40,210.50 C989.83,209.33 991.02,209.52 993.30,208.30 C995.58,207.08 998.00,204.98 1000.10,203.20 C1002.20,201.42 1003.97,199.52 1005.90,197.60 C1007.83,195.68 1010.13,192.97 1011.70,191.70 C1013.27,190.43 1013.33,191.47 1015.30,190.00 C1017.27,188.53 1021.17,184.87 1023.50,182.90 C1025.83,180.93 1026.95,179.57 1029.30,178.20 C1031.65,176.83 1035.25,176.27 1037.60,174.70 C1039.95,173.13 1041.45,170.67 1043.40,168.80 C1045.35,166.93 1047.37,165.38 1049.30,163.50 C1051.23,161.62 1053.22,158.92 1055.00,157.50 C1056.78,156.08 1057.50,156.25 1060.00,155.00 C1062.50,153.75 1066.67,151.83 1070.00,150.00 C1073.33,148.17 1076.67,145.67 1080.00,144.00 C1083.33,142.33 1086.67,141.07 1090.00,140.00 C1093.33,138.93 1096.90,138.20 1100.00,137.60 C1103.10,137.00 1107.17,136.60 1108.60,136.40 L1108.6,416.8 L622.3,416.8 Z" fill="rgba(30,160,130,0.045)"/><path d="M82.80,337.40 C87.05,337.38 98.48,337.05 108.30,337.30 C118.12,337.55 131.70,338.57 141.70,338.90 C151.70,339.23 160.97,339.22 168.30,339.30 C175.63,339.38 179.03,339.17 185.70,339.40 C192.37,339.63 202.75,340.27 208.30,340.70 C213.85,341.13 214.55,341.67 219.00,342.00 C223.45,342.33 229.83,342.45 235.00,342.70 C240.17,342.95 245.83,343.20 250.00,343.50 C254.17,343.80 256.67,344.17 260.00,344.50 C263.33,344.83 266.67,345.25 270.00,345.50 C273.33,345.75 276.67,345.70 280.00,346.00 C283.33,346.30 286.67,346.97 290.00,347.30 C293.33,347.63 296.67,347.83 300.00,348.00 C303.33,348.17 306.83,348.27 310.00,348.30 C313.17,348.33 316.33,347.92 319.00,348.20 C321.67,348.48 322.50,349.53 326.00,350.00 C329.50,350.47 336.83,350.70 340.00,351.00 C343.17,351.30 342.50,351.22 345.00,351.80 C347.50,352.38 351.67,353.88 355.00,354.50 C358.33,355.12 361.67,354.95 365.00,355.50 C368.33,356.05 371.67,357.27 375.00,357.80 C378.33,358.33 381.67,358.47 385.00,358.70 C388.33,358.93 391.67,358.57 395.00,359.20 C398.33,359.83 401.67,361.50 405.00,362.50 C408.33,363.50 411.67,364.12 415.00,365.20 C418.33,366.28 421.67,368.12 425.00,369.00 C428.33,369.88 431.67,370.00 435.00,370.50 C438.33,371.00 441.67,371.62 445.00,372.00 C448.33,372.38 452.50,372.30 455.00,372.80 C457.50,373.30 457.92,374.05 460.00,375.00 C462.08,375.95 465.00,377.67 467.50,378.50 C470.00,379.33 471.25,379.53 475.00,380.00 C478.75,380.47 485.00,380.93 490.00,381.30 C495.00,381.67 501.25,381.88 505.00,382.20 C508.75,382.52 509.25,382.53 512.50,383.20 C515.75,383.87 520.75,384.95 524.50,386.20 C528.25,387.45 530.75,389.20 535.00,390.70 C539.25,392.20 545.00,393.87 550.00,395.20 C555.00,396.53 560.50,397.95 565.00,398.70 C569.50,399.45 573.75,398.90 577.00,399.70 C580.25,400.50 581.50,402.50 584.50,403.50 C587.50,404.50 592.00,404.90 595.00,405.70 C598.00,406.50 599.25,407.72 602.50,408.30 C605.75,408.88 612.00,408.75 614.50,409.20 C617.00,409.65 616.38,409.87 617.50,411.00 C618.62,412.13 619.13,415.03 621.20,416.00 C623.27,416.97 628.45,416.67 629.90,416.80" fill="none" stroke="#dc3246" stroke-width="2.2" stroke-linejoin="round"/><path d="M622.30,412.60 C623.58,412.00 627.27,410.03 630.00,409.00 C632.73,407.97 635.87,407.62 638.70,406.40 C641.53,405.18 644.65,403.37 647.00,401.70 C649.35,400.03 650.65,397.77 652.80,396.40 C654.95,395.03 657.70,394.40 659.90,393.50 C662.10,392.60 662.65,392.58 666.00,391.00 C669.35,389.42 676.00,386.17 680.00,384.00 C684.00,381.83 686.67,380.33 690.00,378.00 C693.33,375.67 696.67,372.00 700.00,370.00 C703.33,368.00 706.67,367.50 710.00,366.00 C713.33,364.50 716.67,363.00 720.00,361.00 C723.33,359.00 726.67,356.67 730.00,354.00 C733.33,351.33 736.67,348.17 740.00,345.00 C743.33,341.83 746.67,337.70 750.00,335.00 C753.33,332.30 757.03,330.40 760.00,328.80 C762.97,327.20 765.18,326.40 767.80,325.40 C770.42,324.40 773.08,323.75 775.70,322.80 C778.32,321.85 780.90,320.60 783.50,319.70 C786.10,318.80 788.68,318.45 791.30,317.40 C793.92,316.35 796.58,315.10 799.20,313.40 C801.82,311.70 804.40,309.42 807.00,307.20 C809.60,304.98 812.18,302.58 814.80,300.10 C817.42,297.62 820.08,294.78 822.70,292.30 C825.32,289.82 827.90,287.28 830.50,285.20 C833.10,283.12 835.68,282.02 838.30,279.80 C840.92,277.58 843.58,274.25 846.20,271.90 C848.82,269.55 851.40,267.52 854.00,265.70 C856.60,263.88 859.18,262.52 861.80,261.00 C864.42,259.48 866.97,257.55 869.70,256.60 C872.43,255.65 875.42,256.43 878.20,255.30 C880.98,254.17 883.43,250.85 886.40,249.80 C889.37,248.75 893.03,249.88 896.00,249.00 C898.97,248.12 901.00,245.88 904.20,244.50 C907.40,243.12 910.63,242.05 915.20,240.70 C919.77,239.35 926.58,238.23 931.60,236.40 C936.62,234.57 940.73,232.07 945.30,229.70 C949.87,227.33 954.43,224.60 959.00,222.20 C963.57,219.80 968.13,217.25 972.70,215.30 C977.27,213.35 982.97,211.67 986.40,210.50 C989.83,209.33 991.02,209.52 993.30,208.30 C995.58,207.08 998.00,204.98 1000.10,203.20 C1002.20,201.42 1003.97,199.52 1005.90,197.60 C1007.83,195.68 1010.13,192.97 1011.70,191.70 C1013.27,190.43 1013.33,191.47 1015.30,190.00 C1017.27,188.53 1021.17,184.87 1023.50,182.90 C1025.83,180.93 1026.95,179.57 1029.30,178.20 C1031.65,176.83 1035.25,176.27 1037.60,174.70 C1039.95,173.13 1041.45,170.67 1043.40,168.80 C1045.35,166.93 1047.37,165.38 1049.30,163.50 C1051.23,161.62 1053.22,158.92 1055.00,157.50 C1056.78,156.08 1057.50,156.25 1060.00,155.00 C1062.50,153.75 1066.67,151.83 1070.00,150.00 C1073.33,148.17 1076.67,145.67 1080.00,144.00 C1083.33,142.33 1086.67,141.07 1090.00,140.00 C1093.33,138.93 1096.90,138.20 1100.00,137.60 C1103.10,137.00 1107.17,136.60 1108.60,136.40" fill="none" stroke="#26a085" stroke-width="2.2" stroke-linejoin="round"/><line x1="630.3" y1="125.2" x2="630.3" y2="416.5" stroke="#cc2b3b" stroke-width="2.6" stroke-dasharray="8.2 3.6"/><path d="M629.7,108.8 L635.2,124.8 L629.7,122.6 L624.2,124.8 Z" fill="#e5182c"/><g opacity="0.45"><path d="M1005,382 Q1005,380 1007,380 L1023.5,380 Q1025.5,380 1025.5,382 L1020.5,402 Q1020,403.5 1018.5,403.5 L1014.5,403.5 Q1013,403.5 1012.5,402 Z" fill="#9a9a9a"/><text x="1034" y="396.3" font-family="Liberation Sans" font-size="15.2" font-weight="700" letter-spacing="0" fill="#9a9a9a">coinglass</text></g>
<path d="M1170.2,31.8 C1168.5,26.5 1159.5,25.8 1156.4,32 M1156.1,28.1 L1156.1,32.1 L1160.1,32.1 M1157.4,35.4 C1159,41 1168.5,41 1170.8,35.3 M1171.4,39.1 L1171.4,34.9 L1167.4,34.9" fill="none" stroke="#1f2328" stroke-width="1.6" stroke-linecap="round" stroke-linejoin="round"/>
<g class="lbl"><text x="70.3" y="120.2" text-anchor="end">18.00M</text><text x="70.3" y="170.2" text-anchor="end">15.00M</text><text x="70.3" y="220.2" text-anchor="end">12.00M</text><text x="70.3" y="270.2" text-anchor="end">9.00M</text><text x="70.3" y="320.2" text-anchor="end">6.00M</text><text x="70.3" y="370.2" text-anchor="end">3.00M</text><text x="70.3" y="420.2" text-anchor="end">1.62K</text><text x="1120.7" y="111.6">552.44M</text><text x="1120.7" y="141.4">500.00M</text><text x="1120.7" y="197.4">400.00M</text><text x="1120.7" y="253.3">300.00M</text><text x="1120.7" y="308.9">200.00M</text><text x="1120.7" y="363.8">100.00M</text><text x="1120.7" y="419.5">0</text><text x="82.8" y="435.2" text-anchor="middle">86.3</text><text x="128.4" y="435.2" text-anchor="middle">87.9</text><text x="174.0" y="435.2" text-anchor="middle">89.3</text><text x="219.6" y="435.2" text-anchor="middle">90.7</text><text x="265.2" y="435.2" text-anchor="middle">91.9</text><text x="310.8" y="435.2" text-anchor="middle">93.1</text><text x="356.3" y="435.2" text-anchor="middle">94.3</text><text x="401.9" y="435.2" text-anchor="middle">95.5</text><text x="447.5" y="435.2" text-anchor="middle">96.7</text><text x="493.1" y="435.2" text-anchor="middle">97.9</text><text x="538.7" y="435.2" text-anchor="middle">99.1</text><text x="584.3" y="435.2" text-anchor="middle">100.3</text><text x="629.9" y="435.2" text-anchor="middle">101.7</text><text x="675.5" y="435.2" text-anchor="middle">102.9</text><text x="721.1" y="435.2" text-anchor="middle">104.1</text><text x="766.7" y="435.2" text-anchor="middle">105.3</text><text x="812.3" y="435.2" text-anchor="middle">106.5</text><text x="857.8" y="435.2" text-anchor="middle">107.7</text><text x="903.4" y="435.2" text-anchor="middle">108.9</text><text x="949.0" y="435.2" text-anchor="middle">110.1</text><text x="994.6" y="435.2" text-anchor="middle">111.3</text><text x="1040.2" y="435.2" text-anchor="middle">112.5</text><text x="1085.8" y="435.2" text-anchor="middle">113.7</text></g>
<rect x="80" y="438" width="1032.8" height="60.8" fill="#edf1fd"/>
<rect x="73.5" y="461" width="15" height="17" rx="5" fill="#2c3040"/>
<line x1="79.5" y1="466" x2="79.5" y2="473" stroke="#c8ccd8" stroke-width="1"/><line x1="82.5" y1="466" x2="82.5" y2="473" stroke="#c8ccd8" stroke-width="1"/>
</svg>
<div style="position:absolute;left:985px;top:471px;width:230px;height:29.5px;background:rgba(0,0,0,0.52);border-radius:5px;"></div>
<svg width="1200" height="511" viewBox="0 0 1200 511">
<rect x="1104.3" y="461" width="15" height="17" rx="5" fill="#2c3040"/>
<line x1="1110.3" y1="466" x2="1110.3" y2="473" stroke="#c8ccd8" stroke-width="1"/><line x1="1113.3" y1="466" x2="1113.3" y2="473" stroke="#c8ccd8" stroke-width="1"/>
</svg>
<div style="position:absolute;left:989.5px;top:476px;font-size:16px;font-weight:700;color:#fff;line-height:19px;white-space:nowrap;text-shadow:0 1px 1px rgba(0,0,0,0.3);">seekingmillionaireapp.com</div>
<div style="position:absolute;left:1192px;top:502px;width:20px;height:20px;background:#eef0f3;border-radius:3px;"></div>
</body></html>
